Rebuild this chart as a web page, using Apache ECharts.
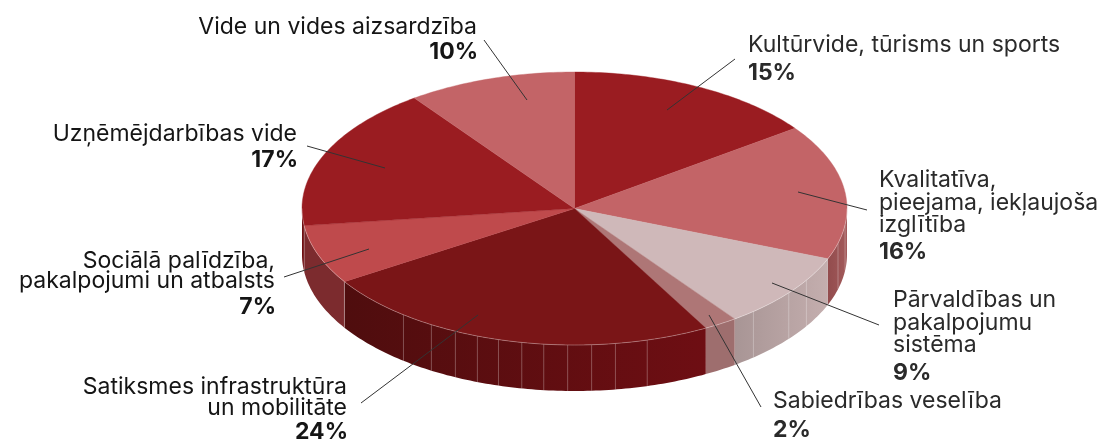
<!DOCTYPE html>
<html>
<head>
<meta charset="utf-8">
<style>
html, body { margin: 0; padding: 0; background: #fff; }
#chart { width: 1105px; height: 439px; }
</style>
<script src="https://cdn.jsdelivr.net/npm/echarts@6/dist/echarts.min.js"></script>
</head>
<body>
<div id="chart"></div>
<script>
// slices, clockwise from 12 o'clock
var categories = [
    ['Kultūrvide, tūrisms un sports'],
    ['Kvalitatīva,', 'pieejama, iekļaujoša', 'izglītība'],
    ['Pārvaldības un', 'pakalpojumu', 'sistēma'],
    ['Sabiedrības veselība'],
    ['Satiksmes infrastruktūra', 'un mobilitāte'],
    ['Sociālā palīdzība,', 'pakalpojumi un atbalsts'],
    ['Uzņēmējdarbības vide'],
    ['Vide un vides aizsardzība']
];
var shares = [15, 16, 9, 2, 24, 7, 17, 10];

var topColors = ['#9a1c21', '#c36467', '#cfb8b9', '#ae7676', '#7a1517', '#bf4a4c', '#9a1c21', '#c36467'];
var sideFrom = ['#9a1c21', '#a35a5b', '#c4aeae', '#9e6e6e', '#6e0e13', '#7c2b2e', '#6e0f12', '#c36467'];
var sideTo = ['#9a1c21', '#924c4d', '#a89595', '#9e6e6e', '#4f0d0e', '#7c2b2e', '#6e0f12', '#c36467'];

// thin seams on the rim, as position around the pie in percent
var rimSeams = [26.9, 29.1, 33.8, 35.6, 38.6, 45.7, 47.6, 49, 50.4, 51.8, 53.1, 54.5, 55.8, 57.2, 58.8, 60.8, 66, 73];

// layout of the pie
var pie = { cx: 574.5, cy: 208.5, rx: 272.5, ry: 136.5, depth: 46 };

// first baseline, line height, baseline of the percent, anchor
var labelPos = [
    { x: 748, y: 51, lh: 23, py: 79, align: 'left' },
    { x: 879, y: 186, lh: 22.5, py: 258, align: 'left' },
    { x: 893, y: 306, lh: 22.5, py: 379, align: 'left' },
    { x: 773, y: 407, lh: 23, py: 436, align: 'left' },
    { x: 347, y: 393, lh: 21, py: 438, align: 'right' },
    { x: 275, y: 267, lh: 20, py: 313, align: 'right' },
    { x: 297, y: 140, lh: 23, py: 166, align: 'right' },
    { x: 477, y: 33, lh: 23, py: 58, align: 'right' }
];
var leaders = [
    [667, 110, 735, 59],
    [798, 192, 867, 210],
    [772, 283, 879, 325],
    [709, 315, 761, 407],
    [478, 315, 361, 403],
    [369, 249, 284, 277],
    [385, 168, 307, 146],
    [527, 100, 484, 40]
];

// text sits on its box bottom, this brings the baseline back on y
var DESCENT = 6;

function rimPoint(pct, dy) {
    var a = pct / 100 * Math.PI * 2;
    return [pie.cx + pie.rx * Math.sin(a), pie.cy - pie.ry * Math.cos(a) + (dy || 0)];
}

function arc(from, to, dy) {
    var pts = [];
    var n = Math.max(2, Math.ceil((to - from) * 4));
    for (var i = 0; i <= n; i++) {
        pts.push(rimPoint(from + (to - from) * i / n, dy));
    }
    return pts;
}

function startOf(idx) {
    var sum = 0;
    for (var i = 0; i < idx; i++) { sum += shares[i]; }
    return sum;
}

function renderSlice(params, api) {
    var idx = params.dataIndex;
    var from = startOf(idx);
    var to = from + api.value(0);
    var children = [];

    // side wall, only the front half of the rim shows
    var f = Math.max(from, 25), t = Math.min(to, 75);
    if (t > f) {
        var upper = arc(f, t, 0);
        var lower = arc(f, t, pie.depth).reverse();
        children.push({
            type: 'polygon',
            shape: { points: upper.concat(lower) },
            style: {
                fill: new echarts.graphic.LinearGradient(upper[0][0], 0, upper[upper.length - 1][0], 0, [
                    { offset: 0, color: sideFrom[idx] },
                    { offset: 1, color: sideTo[idx] }
                ], true)
            }
        });
        rimSeams.forEach(function (s) {
            if (s >= f && s < t) {
                var p = rimPoint(s, 0);
                children.push({
                    type: 'line',
                    shape: { x1: p[0], y1: p[1], x2: p[0], y2: p[1] + pie.depth },
                    style: { stroke: 'rgba(255,255,255,0.28)', lineWidth: 1 }
                });
            }
        });
        children.push({
            type: 'polyline',
            z2: 5,
            shape: { points: upper },
            style: { stroke: 'rgba(255,255,255,0.3)', lineWidth: 1, fill: null }
        });
    }

    // top face
    children.push({
        type: 'polygon',
        z2: 3,
        shape: { points: [[pie.cx, pie.cy]].concat(arc(from, to, 0)) },
        style: { fill: topColors[idx], stroke: topColors[idx], lineWidth: 0.4 }
    });
    return { type: 'group', children: children };
}

function renderLabel(params, api) {
    var idx = params.dataIndex;
    var pos = labelPos[idx];
    var color = pos.align === 'left' ? '#2a2a2a' : '#151515';
    var l = leaders[idx];
    var children = [{
        type: 'line',
        shape: { x1: l[0], y1: l[1], x2: l[2], y2: l[3] },
        style: { stroke: '#333', lineWidth: 1 }
    }];
    categories[idx].forEach(function (line, i) {
        children.push({
            type: 'text',
            style: {
                text: line,
                x: pos.x,
                y: pos.y + i * pos.lh + DESCENT,
                align: pos.align,
                verticalAlign: 'bottom',
                fill: color,
                font: '400 23px Inter'
            }
        });
    });
    children.push({
        type: 'text',
        style: {
            text: api.value(0) + '%',
            x: pos.x + (pos.align === 'right' ? 1 : 0),
            y: pos.py + DESCENT,
            align: pos.align,
            verticalAlign: 'bottom',
            fill: color,
            font: '700 23px Inter'
        }
    });
    return { type: 'group', children: children };
}

var myChart = echarts.init(document.getElementById('chart'), null, { renderer: 'canvas' });
var values = shares.map(function (v) { return [v]; });

myChart.setOption({
    backgroundColor: '#fff',
    animation: false,
    series: [
        { type: 'custom', coordinateSystem: 'none', silent: true, z: 2, renderItem: renderSlice, data: values },
        { type: 'custom', coordinateSystem: 'none', silent: true, z: 3, renderItem: renderLabel, data: values }
    ]
});
</script>
</body>
</html>
